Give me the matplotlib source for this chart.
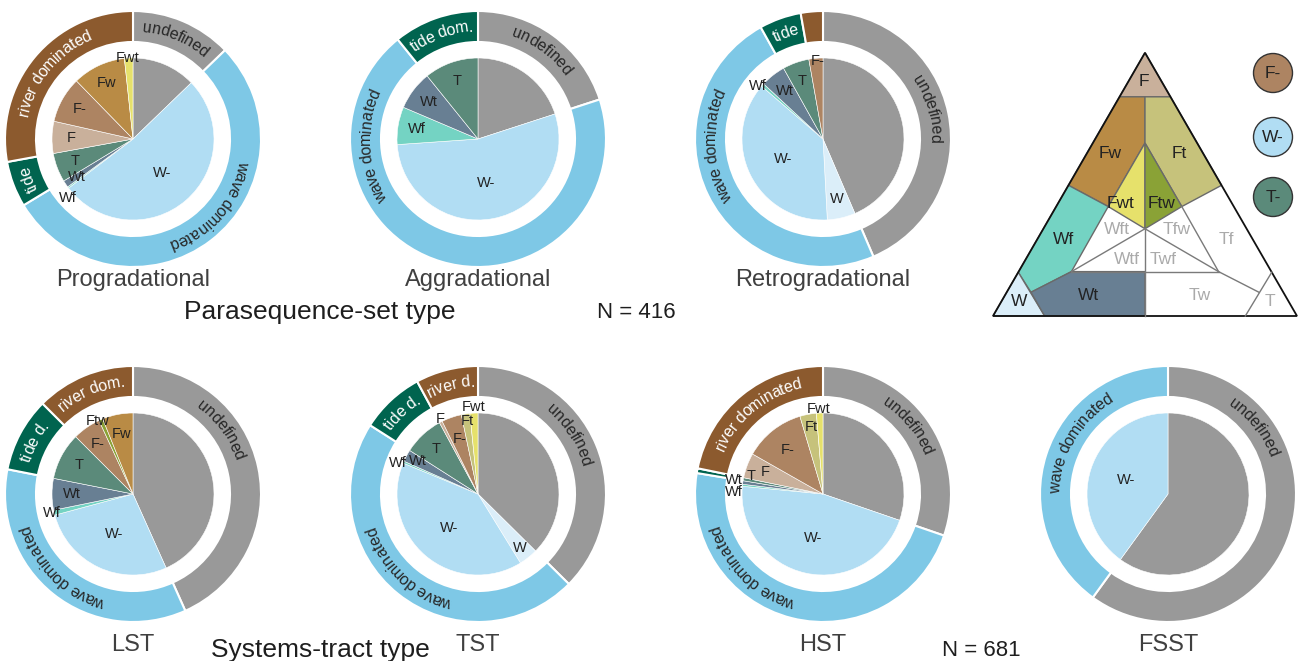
import numpy as np
import matplotlib
matplotlib.use('Agg')
import matplotlib.pyplot as plt
from matplotlib.patches import Polygon, Circle
from matplotlib.font_manager import FontProperties
from matplotlib.textpath import text_to_path

plt.rcParams['font.family'] = ['Liberation Sans', 'DejaVu Sans']

W_PX, H_PX = 1305, 661

# facies classes of the inner pie, clockwise from 12 o'clock
facies = ['undefined', 'W', 'W-', 'Wf', 'Wt', 'T', 'F', 'F-', 'Ftw', 'Ft', 'Fw', 'Fwt']
facies_colors = {
    'undefined': '#999999', 'W': '#dbeef9', 'W-': '#b1ddf3', 'Wf': '#74d3c3',
    'Wt': '#687f93', 'T': '#5b8a7a', 'F': '#c9b09b', 'F-': '#ad8462',
    'Ftw': '#8aa236', 'Ft': '#c6c27b', 'Fw': '#b98b45', 'Fwt': '#e6e16b',
}

# share of each facies (% of cases)
progradational = [12.8, 0, 51.9, 0.3, 1.4, 5.8, 6.4, 9.2, 0, 0, 10.6, 1.7]
aggradational = [20.0, 0, 53.9, 7.5, 7.8, 10.8, 0, 0, 0, 0, 0, 0]
retrogradational = [43.6, 5.6, 37.2, 0.6, 5.0, 5.3, 0, 2.8, 0, 0, 0, 0]
lst = [43.3, 0, 27.5, 1.0, 6.3, 9.4, 0, 5.6, 0.8, 0, 6.1, 0]
tst = [37.5, 3.8, 40.1, 0.4, 2.4, 8.1, 0.6, 4.0, 0, 1.7, 0, 1.6]
hst = [30.3, 0, 46.3, 0.4, 0.7, 0.6, 5.0, 12.2, 0, 3.3, 0, 1.3]
fsst = [60.0, 0, 40.0, 0, 0, 0, 0, 0, 0, 0, 0, 0]

# outer ring: process regime and the facies it groups
regimes = ['undefined', 'wave', 'tide', 'river']
regime_members = {
    'undefined': ['undefined'],
    'wave': ['W', 'W-', 'Wf', 'Wt'],
    'tide': ['T'],
    'river': ['F', 'F-', 'Ftw', 'Ft', 'Fw', 'Fwt'],
}
regime_colors = {'undefined': '#999999', 'wave': '#7ec8e6', 'tide': '#00644f', 'river': '#8c5a2e'}
regime_text = {'undefined': '#262626', 'wave': '#262626', 'tide': 'white', 'river': 'white'}

prog_ring = ['undefined', 'wave dominated', 'tide', 'river dominated']
agg_ring = ['undefined', 'wave dominated', 'tide dom.', '']
retro_ring = ['undefined', 'wave dominated', 'tide', '']
lst_ring = ['undefined', 'wave dominated', 'tide d.', 'river dom.']
tst_ring = ['undefined', 'wave dominated', 'tide d.', 'river d.']
hst_ring = ['undefined', 'wave dominated', '', 'river dominated']
fsst_ring = ['undefined', 'wave dominated', '', '']

R_OUT, R_RING_IN, R_PIE = 128, 97, 81

fig = plt.figure(figsize=(W_PX / 100, H_PX / 100), dpi=100)
ax = fig.add_axes([0, 0, 1, 1])


def Y(y):
    return H_PX - y


def text_w(s, size):
    if not s:
        return 0.0
    fp = FontProperties(family='Liberation Sans', size=size)
    return text_to_path.get_text_width_height_descent(s, fp, ismath=False)[0] * 100 / 72


def arc_text(cx, cy, r, mid, s, size, color):
    total = text_w(s, size)
    base = r - 0.3 * size * 100 / 72
    for i, ch in enumerate(s):
        if ch == ' ':
            continue
        pos = text_w(s[:i], size) + text_w(ch, size) / 2 - total / 2
        th = mid + np.degrees(pos / r)
        t = np.radians(th)
        ax.text(cx + base * np.sin(t), cy + base * np.cos(t), ch, rotation=-th,
                rotation_mode='anchor', ha='center', va='baseline',
                fontsize=size, color=color)


def donut(title, values, ring_labels, cx, cy, ring_at=None, inner_at=None):
    ring_at = ring_at or {}
    inner_at = inner_at or {}
    cy = Y(cy)
    vals = np.array(values, float)
    names = [f for f, v in zip(facies, vals) if v > 0]
    v_in = vals[vals > 0]
    ax.pie(v_in, colors=[facies_colors[f] for f in names], center=(cx, cy), radius=R_PIE,
           startangle=90, counterclock=False,
           wedgeprops=dict(edgecolor='white', linewidth=0.4))
    ring = np.array([sum(v for f, v in zip(facies, vals) if f in regime_members[g]) for g in regimes])
    keep = ring > 0
    ax.pie(ring[keep], colors=[regime_colors[g] for g, k in zip(regimes, keep) if k],
           center=(cx, cy), radius=R_OUT, startangle=90, counterclock=False,
           wedgeprops=dict(width=R_OUT - R_RING_IN, edgecolor='white', linewidth=1.5))

    # inner labels
    cum = np.cumsum(v_in) / v_in.sum() * 360
    for f, end, span in zip(names, cum, v_in / v_in.sum() * 360):
        if f == 'undefined':
            continue
        ang = end - span / 2
        if span >= 60:
            rf = 0.55
        elif span >= 12:
            rf = 0.76
        elif span >= 5:
            rf = 0.88
        else:
            rf = 1.03
        if f in inner_at:
            ang, rf = inner_at[f]
        t = np.radians(ang)
        ax.text(cx + rf * R_PIE * np.sin(t), cy + rf * R_PIE * np.cos(t), f,
                ha='center', va='center', fontsize=10.5, color='#222222')

    # ring labels along the arc
    rcum = np.cumsum(ring) / ring.sum() * 360
    for g, lab, end, span in zip(regimes, ring_labels, rcum, ring / ring.sum() * 360):
        if not lab or span == 0:
            continue
        mid = ring_at.get(g, end - span / 2)
        arc_text(cx, cy, (R_OUT + R_RING_IN) / 2, mid, lab, 11.5, regime_text[g])

    ax.text(cx, Y(280) if cy > 300 else Y(645), title, ha='center', va='center',
            fontsize=17, color='#404040')


donut('Progradational', progradational, prog_ring, 133, 139,
      ring_at={'wave': 131},
      inner_at={'Wf': (228, 1.08), 'Wt': (236, 0.84), 'Fwt': (356, 1.0)})
donut('Aggradational', aggradational, agg_ring, 478, 139, ring_at={'wave': 266})
donut('Retrogradational', retrogradational, retro_ring, 823, 139,
      ring_at={'wave': 266, 'undefined': 74},
      inner_at={'Wf': (309, 1.03), 'F-': (356, 0.97)})
donut('LST', lst, lst_ring, 133, 494, ring_at={'undefined': 54, 'wave': 224},
      inner_at={'Ftw': (334, 1.0)})
donut('TST', tst, tst_ring, 478, 494, ring_at={'undefined': 57, 'wave': 223},
      inner_at={'Wf': (291, 1.06), 'Wt': (299, 0.85), 'F': (333, 1.04), 'W': (142, 0.84),
                'F-': (342, 0.72), 'Ft': (351.5, 0.91), 'Fwt': (357, 1.07)})
donut('HST', hst, hst_ring, 823, 494, ring_at={'undefined': 51, 'wave': 224},
      inner_at={'Wf': (271, 1.1), 'Wt': (279, 1.12), 'T': (284, 0.91),
                'F-': (321, 0.7), 'Ft': (350, 0.84), 'Fwt': (357, 1.05)})
donut('FSST', fsst, fsst_ring, 1168, 494, ring_at={'undefined': 52, 'wave': 300})

ax.text(320, Y(312), 'Parasequence-set type', ha='center', va='center', fontsize=19, color='#1e1e1e')
ax.text(636, Y(313), 'N = 416', ha='center', va='center', fontsize=16, color='#1e1e1e')
ax.text(320, Y(657), 'Systems-tract type', ha='center', va='baseline', fontsize=19, color='#1e1e1e')
ax.text(981, Y(656), 'N = 681', ha='center', va='baseline', fontsize=16, color='#1e1e1e')

# ternary classification diagram (normalised triangle, side 1)
def tp(x, y):
    return (993 + 304 * x, Y(316 - 304 * y))

tri_regions = {
    'F': [(0.5, 0.866), (0.416, 0.721), (0.584, 0.721)],
    'Fw': [(0.416, 0.721), (0.5, 0.721), (0.5, 0.569), (0.379, 0.36), (0.248, 0.43)],
    'Ft': [(0.5, 0.721), (0.584, 0.721), (0.752, 0.43), (0.621, 0.36), (0.5, 0.569)],
    'Fwt': [(0.5, 0.569), (0.379, 0.36), (0.5, 0.287)],
    'Ftw': [(0.5, 0.569), (0.621, 0.36), (0.5, 0.287)],
    'Wf': [(0.248, 0.43), (0.379, 0.36), (0.258, 0.146), (0.125, 0.078), (0.083, 0.144)],
    'W': [(0, 0), (0.083, 0.144), (0.17, 0)],
    'Wt': [(0.17, 0), (0.125, 0.078), (0.258, 0.146), (0.5, 0.146), (0.5, 0)],
}
for f, pts in tri_regions.items():
    ax.add_patch(Polygon([tp(*p) for p in pts], closed=True, facecolor=facies_colors[f],
                         edgecolor='#6a6a6a', linewidth=1.0))
tri_lines = [
    [(0.5, 0.287), (0.258, 0.146)], [(0.5, 0.287), (0.742, 0.146)],
    [(0.5, 0.287), (0.5, 0.0)], [(0.258, 0.146), (0.742, 0.146)],
    [(0.621, 0.36), (0.742, 0.146)], [(0.742, 0.146), (0.875, 0.078)],
    [(0.83, 0.0), (0.917, 0.144)],
]
for seg in tri_lines:
    xs, ys = zip(*[tp(*p) for p in seg])
    ax.plot(xs, ys, color='#7a7a7a', lw=1.0)
ax.add_patch(Polygon([tp(0, 0), tp(1, 0), tp(0.5, 0.866)], closed=True, fill=False,
                     edgecolor='#111111', linewidth=1.3))

tri_labels = [
    ('F', 0.495, 0.773, '#222222'), ('Fw', 0.385, 0.536, '#222222'), ('Ft', 0.612, 0.536, '#222222'),
    ('Fwt', 0.418, 0.371, '#222222'), ('Ftw', 0.555, 0.371, '#222222'), ('Wf', 0.231, 0.251, '#222222'),
    ('Wft', 0.407, 0.284, '#aaaaaa'), ('Tfw', 0.604, 0.284, '#aaaaaa'), ('Tf', 0.769, 0.251, '#aaaaaa'),
    ('Wtf', 0.44, 0.185, '#aaaaaa'), ('Twf', 0.56, 0.185, '#aaaaaa'), ('W', 0.086, 0.047, '#222222'),
    ('Wt', 0.313, 0.069, '#222222'), ('Tw', 0.681, 0.069, '#aaaaaa'), ('T', 0.912, 0.047, '#aaaaaa'),
]
for s, x, y, c in tri_labels:
    ax.text(*tp(x, y), s, ha='center', va='center', fontsize=12.5, color=c)

# legend of the undifferentiated classes
legend_items = ['F-', 'W-', 'T-']
legend_colors = [facies_colors['F-'], facies_colors['W-'], facies_colors['T']]
for lab, col, yy in zip(legend_items, legend_colors, [73, 137, 197]):
    ax.add_patch(Circle((1273, Y(yy)), 19.5, facecolor=col, edgecolor='#333333', linewidth=1.0))
    ax.text(1273, Y(yy), lab, ha='center', va='center', fontsize=12.5, color='#222222')

ax.set_xlim(0, W_PX)
ax.set_ylim(0, H_PX)
ax.set_aspect('equal')
ax.axis('off')
fig.savefig('out.png', dpi=100)
